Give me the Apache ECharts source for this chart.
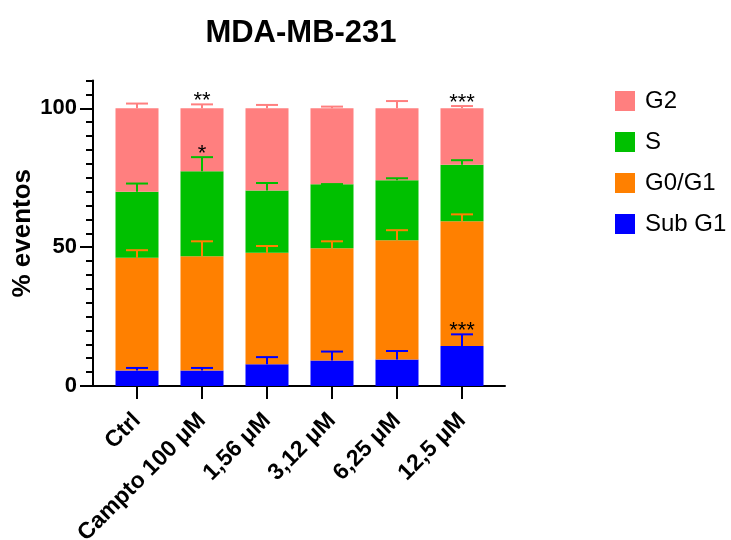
<!DOCTYPE html>
<html>
<head>
<meta charset="utf-8">
<script src="https://cdn.jsdelivr.net/npm/echarts@6/dist/echarts.min.js"></script>
<style>
  html, body { margin: 0; padding: 0; background: #fff; }
  #chart { width: 731px; height: 540px; }
</style>
</head>
<body>
<div id="chart"></div>
<script>
// data (mean % of events, upper SD)
const categories = ['Ctrl', 'Campto 100 μM', '1,56 μM', '3,12 μM', '6,25 μM', '12,5 μM'];
const subG1 = [5.6, 5.6, 7.8, 9.2, 9.5, 14.4];
const g0g1 = [40.6, 41.1, 40.2, 40.4, 43.0, 44.9];
const sPhase = [23.7, 30.6, 22.4, 23.0, 21.6, 20.4];
const g2 = [30.1, 22.7, 29.6, 27.4, 25.9, 20.3];
const subG1Err = [0.9, 0.9, 2.6, 3.2, 3.1, 4.2];
const g0g1Err = [2.7, 5.4, 2.4, 2.5, 3.6, 2.5];
const sPhaseErr = [3.0, 5.1, 2.7, 0.1, 0.7, 1.6];
const g2Err = [1.7, 1.4, 1.2, 0.6, 2.6, 0.8];
const subG1Sig = ['', '', '', '', '', '***'];
const g0g1Sig = ['', '', '', '', '', ''];
const sPhaseSig = ['', '*', '', '', '', ''];
const g2Sig = ['', '**', '', '', '', '***'];

const font = 'Liberation Sans, Arial, sans-serif';

// bottom to top
const phases = [
  { name: 'Sub G1', values: subG1, err: subG1Err, sig: subG1Sig, color: '#0000ff' },
  { name: 'G0/G1', values: g0g1, err: g0g1Err, sig: g0g1Sig, color: '#ff8000' },
  { name: 'S', values: sPhase, err: sPhaseErr, sig: sPhaseSig, color: '#00c000' },
  { name: 'G2', values: g2, err: g2Err, sig: g2Sig, color: '#ff7f7f' }
];

let chart = echarts.init(document.getElementById('chart'));

let series = [];
let running = categories.map(() => 0);
phases.forEach((p) => {
  series.push({
    name: p.name,
    type: 'bar',
    stack: 'all',
    xAxisIndex: 1,
    yAxisIndex: 1,
    barWidth: 43,
    itemStyle: { color: p.color },
    data: p.values
  });
  let errData = p.values.map((v, i) => {
    running[i] += v;
    return [i, running[i], running[i] + p.err[i]];
  });
  series.push({
    type: 'custom',
    xAxisIndex: 1,
    yAxisIndex: 1,
    z: 5,
    silent: true,
    data: errData,
    renderItem: (params, api) => {
      let base = api.coord([api.value(0), api.value(1)]);
      let top = api.coord([api.value(0), api.value(2)]);
      let style = { stroke: p.color, lineWidth: 2 };
      let children = [
        { type: 'line', shape: { x1: base[0], y1: base[1], x2: top[0], y2: top[1] }, style: style },
        { type: 'line', shape: { x1: top[0] - 11, y1: top[1], x2: top[0] + 11, y2: top[1] }, style: style }
      ];
      let s = p.sig[params.dataIndex];
      if (s) {
        children.push({
          type: 'text',
          style: {
            text: s, x: top[0], y: top[1] + 8,
            align: 'center', verticalAlign: 'bottom',
            fill: '#000', font: '22px ' + font
          }
        });
      }
      return { type: 'group', children: children };
    }
  });
});

let option = {
  animation: false,
  title: {
    text: 'MDA-MB-231',
    left: 296,
    textAlign: 'center',
    top: 13,
    textStyle: { fontFamily: font, fontWeight: 'bold', fontSize: 31, color: '#000' }
  },
  legend: {
    orient: 'vertical',
    left: 610,
    top: 84,
    itemWidth: 20,
    itemHeight: 20,
    itemGap: 17,
    icon: 'rect',
    data: ['G2', 'S', 'G0/G1', 'Sub G1'],
    textStyle: { fontFamily: font, fontSize: 24, color: '#000', padding: [0, 0, 0, 5] }
  },
  grid: [
    { left: 93, right: 226, top: 80.5, bottom: 154, outerBoundsMode: 'none', containLabel: false },
    { left: 104.5, right: 236.5, top: 80.5, bottom: 154, outerBoundsMode: 'none', containLabel: false },
    { left: 93, right: 226, top: 108.3, bottom: 154, outerBoundsMode: 'none', containLabel: false }
  ],
  xAxis: [
    {
      gridIndex: 0, type: 'value', min: 0, max: 1,
      axisLine: { show: true, onZero: false, lineStyle: { color: '#000', width: 2 } },
      axisTick: { show: false }, axisLabel: { show: false }, splitLine: { show: false }
    },
    {
      gridIndex: 1, type: 'category', data: categories,
      axisLine: { show: false },
      axisTick: { show: true, alignWithLabel: true, length: 13, lineStyle: { color: '#000', width: 2 } },
      axisLabel: {
        rotate: 45, margin: 31, interval: 0,
        fontFamily: font, fontWeight: 'bold', fontSize: 23, color: '#000'
      }
    },
    {
      gridIndex: 2, type: 'value', show: false
    }
  ],
  yAxis: [
    {
      gridIndex: 0, type: 'value', min: 0, max: 110, interval: 5,
      axisLine: { show: true, lineStyle: { color: '#000', width: 2 } },
      axisTick: { show: true, length: 7, lineStyle: { color: '#000', width: 2 } },
      axisLabel: { show: false },
      splitLine: { show: false },
      name: '% eventos',
      nameLocation: 'middle',
      nameRotate: 90,
      nameGap: 57,
      nameTextStyle: { fontFamily: font, fontWeight: 'bold', fontSize: 26, color: '#000' }
    },
    {
      gridIndex: 1, type: 'value', min: 0, max: 110, show: false
    },
    {
      gridIndex: 2, type: 'value', min: 0, max: 100, interval: 50,
      axisLine: { show: false },
      axisTick: { show: true, length: 13, lineStyle: { color: '#000', width: 2 } },
      axisLabel: { margin: 16, fontFamily: font, fontWeight: 'bold', fontSize: 22, color: '#000' },
      splitLine: { show: false }
    }
  ],
  series: series
};

chart.setOption(option);
</script>
</body>
</html>
